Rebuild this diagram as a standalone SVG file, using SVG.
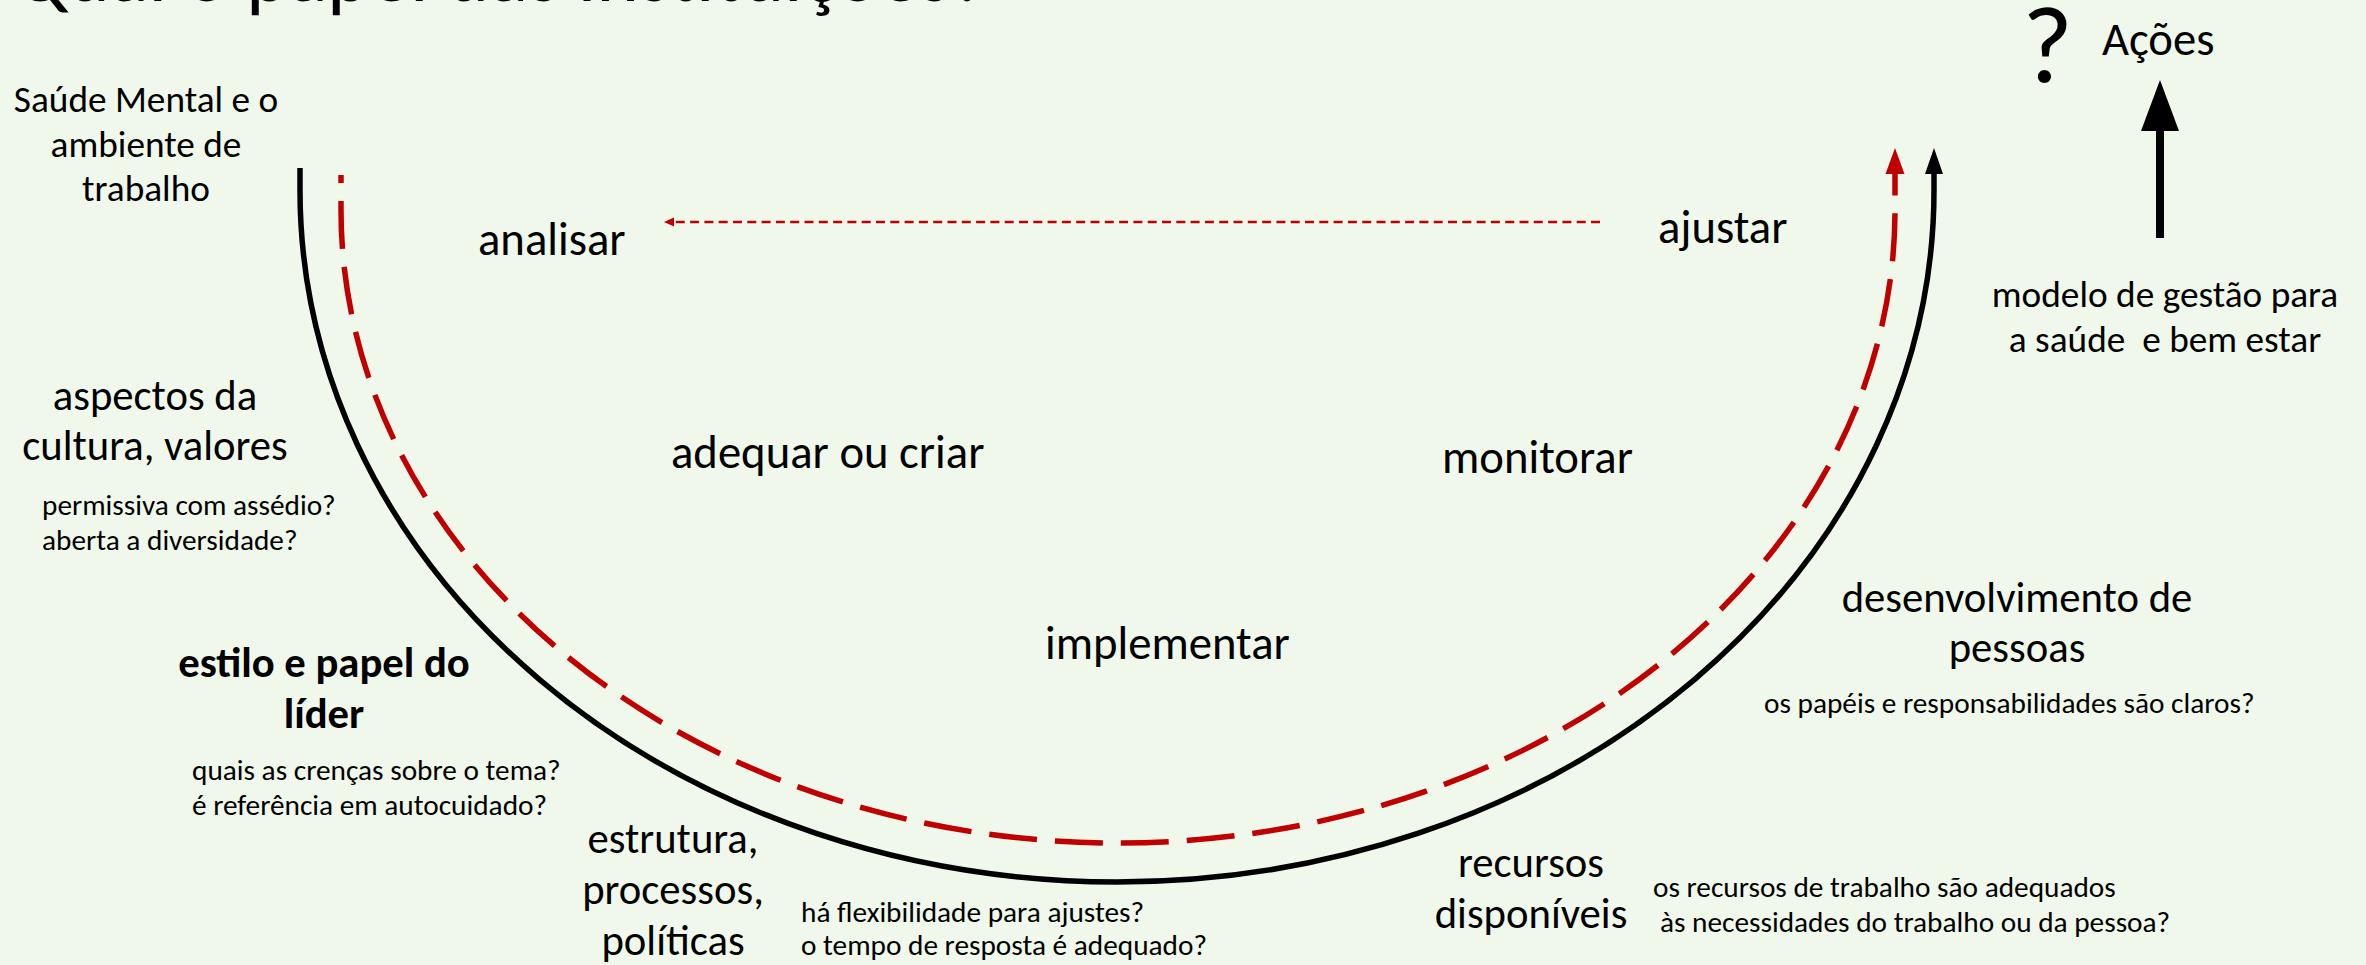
<svg xmlns="http://www.w3.org/2000/svg" width="2366" height="965" viewBox="0 0 2366 965">
<style>
text{font-family:Carlito,Calibri,Lato,"Liberation Sans",sans-serif;fill:#000}
.step{font-size:46.7px}
.big{font-size:42.7px}
.mid{font-size:37.3px}
.small{font-size:29.3px}
.c{text-anchor:middle}
.b{font-weight:bold}
.arc{fill:none;stroke-width:5.5}
</style>
<rect x="0" y="0" width="2366" height="965" fill="#F0F8EC"/>
<g id="title"><text x="13" y="1" style="font-size:86px" textLength="975" lengthAdjust="spacingAndGlyphs">Qual o papel das instituições?</text></g>
<g id="connectors">
  <path class="arc" stroke="#000" d="M300,168 L300,190 A817,692 0 0 0 1934,190 L1934,170"/>
  <polygon points="1934,148 1925,174 1943,174" fill="#000"/>
  <path class="arc" stroke="#C00000" stroke-dasharray="48 18" stroke-dashoffset="40" d="M341,175 L341,210 A777,633 0 0 0 1895,210 L1895,172"/>
  <polygon points="1895,148 1885.5,174 1904.5,174" fill="#C00000"/>
  <line x1="1600" y1="222" x2="670" y2="222" stroke="#C00000" stroke-width="2.5" stroke-dasharray="9 5.3"/>
  <polygon points="664,222 674,217.5 674,226.5" fill="#C00000"/>
  <line x1="2160" y1="238" x2="2160" y2="125" stroke="#000" stroke-width="8"/>
  <polygon points="2160,80 2141,131 2179,131" fill="#000"/>
</g>
<g id="saude"><text class="mid c" x="146" y="112">Saúde Mental e o</text><text class="mid c" x="146" y="157">ambiente de</text><text class="mid c" x="146" y="201">trabalho</text></g>
<g id="analisar"><text class="step" x="478" y="255">analisar</text></g>
<g id="ajustar"><text class="step" x="1658" y="243">ajustar</text></g>
<g id="adequar"><text class="step" x="671" y="468">adequar ou criar</text></g>
<g id="monitorar"><text class="step" x="1442" y="473">monitorar</text></g>
<g id="implementar"><text class="step" x="1045" y="659">implementar</text></g>
<g id="cultura"><text class="big c" x="155" y="410">aspectos da</text><text class="big c" x="155" y="460">cultura, valores</text>
  <text class="small" x="42" y="515">permissiva com assédio?</text><text class="small" x="42" y="550">aberta a diversidade?</text></g>
<g id="lider"><text class="big c b" x="324" y="677">estilo e papel do</text><text class="big c b" x="324" y="728">líder</text>
  <text class="small" x="192" y="780">quais as crenças sobre o tema?</text><text class="small" x="192" y="815">é referência em autocuidado?</text></g>
<g id="estrutura"><text class="big c" x="673" y="853">estrutura,</text><text class="big c" x="673" y="904">processos,</text><text class="big c" x="673" y="955">políticas</text>
  <text class="small" x="801" y="922">há flexibilidade para ajustes?</text><text class="small" x="801" y="955">o tempo de resposta é adequado?</text></g>
<g id="recursos"><text class="big c" x="1531" y="877">recursos</text><text class="big c" x="1531" y="928">disponíveis</text>
  <text class="small" x="1653" y="897">os recursos de trabalho são adequados</text><text class="small" x="1660" y="932">às necessidades do trabalho ou da pessoa?</text></g>
<g id="pessoas"><text class="big c" x="2017" y="612">desenvolvimento de</text><text class="big c" x="2017" y="662">pessoas</text>
  <text class="small" x="1764" y="713">os papéis e responsabilidades são claros?</text></g>
<g id="modelo"><text class="mid c" x="2165" y="307">modelo de gestão para</text><text class="mid c" x="2165" y="352" style="white-space:pre">a saúde  e bem estar</text></g>
<g id="acoes"><text x="2022" y="82" style="font-size:110px">?</text><text class="step" x="2102" y="55">Ações</text></g>
</svg>
